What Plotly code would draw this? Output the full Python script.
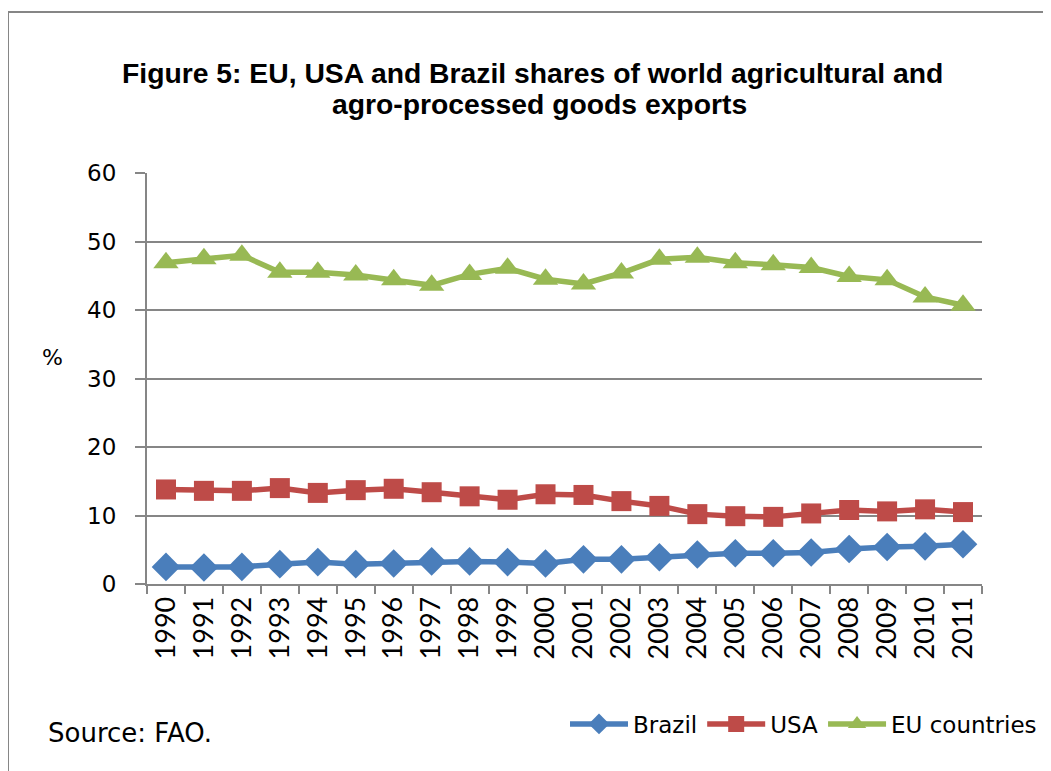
import plotly.graph_objects as go

years = [str(y) for y in range(1990, 2012)]
brazil = [2.5, 2.4, 2.5, 2.9, 3.2, 2.9, 3.0, 3.3, 3.3, 3.2, 3.0, 3.6, 3.6, 3.9, 4.3, 4.5, 4.5, 4.6, 5.1, 5.4, 5.5, 5.8]
usa = [13.8, 13.6, 13.6, 14.0, 13.3, 13.7, 13.9, 13.4, 12.8, 12.3, 13.1, 13.0, 12.1, 11.4, 10.2, 9.9, 9.8, 10.3, 10.8, 10.6, 10.9, 10.5]
eu = [46.9, 47.5, 48.0, 45.5, 45.5, 45.1, 44.4, 43.6, 45.2, 46.1, 44.5, 43.8, 45.4, 47.4, 47.7, 46.9, 46.6, 46.2, 44.9, 44.4, 41.9, 40.7]

series = [
    ("Brazil", brazil, "#4A7EBB", "diamond", 22),
    ("USA", usa, "#BE4B48", "square", 20),
    ("EU countries", eu, "#98B954", "triangle-up", 22),
]

# screen-coordinate helpers (page has 8px body margin)
OFF = 8
PL, PR, PT, PB = 147, 982, 173, 584
W, H = 1043, 763


def px(x):
    return (x - PL) / (PR - PL)


def py(y):
    return (PB - y) / (PB - PT)


fig = go.Figure()
for name, vals, color, sym, size in series:
    fig.add_trace(go.Scatter(
        x=years, y=vals, name=name, mode="lines+markers",
        line=dict(color=color, width=5.5),
        marker=dict(symbol=sym, size=size, color=color, line=dict(width=0)),
    ))

fig.update_layout(
    width=W, height=H,
    margin=dict(l=PL - OFF, r=W - (PR - OFF), t=PT - OFF, b=H - (PB - OFF), autoexpand=False),
    paper_bgcolor="white", plot_bgcolor="white",
    showlegend=True,
    legend=dict(
        orientation="h", x=px(1042), xanchor="right", y=py(724), yanchor="middle",
        font=dict(family="DejaVu Sans, sans-serif", size=23, color="#000000"),
        itemwidth=58, tracegroupgap=0, bgcolor="rgba(0,0,0,0)",
    ),
    xaxis=dict(
        type="category", range=[-0.5, 21.5],
        showline=True, linecolor="#868686", linewidth=2,
        ticks="outside", tickson="boundaries", ticklen=8, tickcolor="#868686", tickwidth=2,
        tickangle=-90, tickfont=dict(family="Lato, sans-serif", size=27, color="#000000"),
        showgrid=False,
    ),
    yaxis=dict(
        range=[0, 60], dtick=10, tick0=0,
        showline=True, linecolor="#868686", linewidth=2,
        ticks="outside", ticklen=10, tickcolor="#868686", tickwidth=2,
        showgrid=True, gridcolor="#868686", gridwidth=2,
        tickfont=dict(family="DejaVu Sans, sans-serif", size=23, color="#000000"),
        ticklabelstandoff=14, zeroline=False,
    ),
    shapes=[dict(type="rect", xref="paper", yref="paper",
                 x0=px(8), x1=px(1080), y0=py(800), y1=py(12),
                 line=dict(color="#868686", width=2), fillcolor="rgba(0,0,0,0)", layer="below")],
    annotations=[
        dict(text="<b>Figure 5: EU, USA and Brazil shares of world agricultural and</b>",
             xref="paper", yref="paper", x=px(532), y=py(73),
             xanchor="center", yanchor="middle", showarrow=False,
             font=dict(family="Liberation Sans, Arial, sans-serif", size=28.3, color="#000000")),
        dict(text="<b>agro-processed goods exports</b>",
             xref="paper", yref="paper", x=px(539), y=py(104),
             xanchor="center", yanchor="middle", showarrow=False,
             font=dict(family="Liberation Sans, Arial, sans-serif", size=28.3, color="#000000")),
        dict(text="%", xref="paper", yref="paper", x=px(52), y=py(357),
             xanchor="center", yanchor="middle", showarrow=False,
             font=dict(family="DejaVu Sans, sans-serif", size=22, color="#000000")),
        dict(text="Source: FAO.", xref="paper", yref="paper", x=px(46), y=py(733),
             xanchor="left", yanchor="middle", showarrow=False,
             font=dict(family="DejaVu Sans, sans-serif", size=26, color="#000000")),
    ],
)

fig.write_html("out.html")
